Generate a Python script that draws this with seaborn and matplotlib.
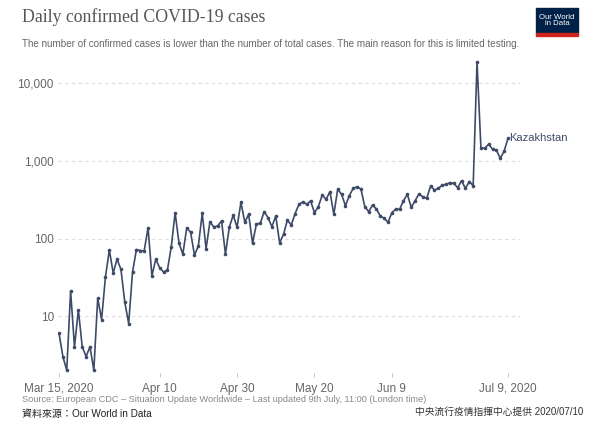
import numpy as np
import pandas as pd
import seaborn as sns
import matplotlib.pyplot as plt
import matplotlib.dates as mdates
from matplotlib.ticker import FixedLocator, NullLocator
from matplotlib.patches import Rectangle

# Data: daily confirmed cases, Kazakhstan, Mar 15 - Jul 9 2020
start_date = "2020-03-15"
daily_cases = [
    6, 3, 2, 21, 4, 12, 4, 3, 4, 2,
    17, 9, 32, 71, 36, 54, 40, 15, 8, 37,
    72, 70, 69, 138, 33, 54, 42, 37, 39, 78,
    215, 87, 63, 138, 120, 61, 80, 211, 74, 165,
    140, 146, 168, 63, 140, 200, 140, 293, 162, 205,
    87, 154, 157, 222, 186, 142, 195, 88, 113, 173,
    149, 210, 276, 297, 276, 305, 215, 258, 363, 321,
    402, 205, 431, 372, 265, 357, 443, 465, 436, 258,
    222, 270, 240, 196, 182, 162, 215, 240, 238, 308,
    372, 252, 308, 375, 345, 330, 475, 423, 443, 489,
    500, 523, 515, 452, 557, 443, 543, 480, 19000, 1486,
    1452, 1650, 1418, 1390, 1080, 1340, 1963,
]
country = "Kazakhstan"
y_ticks = [10, 100, 1000, 10000]
y_tick_labels = ["10", "100", "1,000", "10,000"]
x_tick_dates = ["2020-03-15", "2020-04-10", "2020-04-30", "2020-05-20", "2020-06-09", "2020-07-09"]
x_tick_labels = ["Mar 15, 2020", "Apr 10", "Apr 30", "May 20", "Jun 9", "Jul 9, 2020"]

df = pd.DataFrame({
    "date": pd.date_range(start_date, periods=len(daily_cases), freq="D"),
    "cases": daily_cases,
})

sns.set_style("white")
plt.rcParams["font.family"] = ["Liberation Sans", "Noto Sans CJK TC", "DejaVu Sans"]

line_color = "#3d4b68"
grey = "#666666"

fig = plt.figure(figsize=(6, 4.24), dpi=100)
W, H = 600, 424
ax = fig.add_axes([58 / W, 1 - 373 / H, (520 - 58) / W, (373 - 58) / H])

sns.lineplot(data=df, x="date", y="cases", ax=ax, color=line_color, lw=1.2,
             marker="o", markersize=2.6, markeredgewidth=0, markerfacecolor=line_color)

ax.set_yscale("log")
ax.set_ylim(1.84, 21330)
d0 = df["date"].iloc[0]
ax.set_xlim(d0 - pd.Timedelta(days=0.26), d0 + pd.Timedelta(days=119.1))

ax.yaxis.set_major_locator(FixedLocator(y_ticks))
ax.yaxis.set_minor_locator(NullLocator())
ax.set_yticklabels(y_tick_labels)
ax.set_xticks(pd.to_datetime(x_tick_dates))
ax.set_xticklabels(x_tick_labels)

ax.grid(axis="y", color="#dddddd", ls=(0, (3, 3)), lw=0.8)
ax.grid(axis="x", visible=False)
for s in ax.spines.values():
    s.set_visible(False)
ax.tick_params(axis="y", length=0, pad=3, labelsize=8.5, labelcolor=grey)
ax.tick_params(axis="x", length=3, width=0.6, color="#bbbbbb", pad=4,
               labelsize=8.5, labelcolor=grey, bottom=True)
ax.set_xlabel("")
ax.set_ylabel("")

# series label
ax.text(df["date"].iloc[-1] + pd.Timedelta(days=0.4), daily_cases[-1], country,
        color=line_color, fontsize=8, va="center", ha="left")

# header
fig.text(22 / W, 1 - 8 / H, "Daily confirmed COVID-19 cases", family="Liberation Serif",
         fontsize=12.8, color="#555555", va="top", ha="left")
fig.text(22 / W, 1 - 44 / H,
         "The number of confirmed cases is lower than the number of total cases. "
         "The main reason for this is limited testing.",
         fontsize=7.1, color=grey, va="center", ha="left")

# logo
fig.patches.append(Rectangle((536 / W, 1 - 33 / H), 42 / W, 25 / H,
                             transform=fig.transFigure, color="#002147"))
fig.patches.append(Rectangle((536 / W, 1 - 36 / H), 42 / W, 3 / H,
                             transform=fig.transFigure, color="#ce261e"))
fig.text(557 / W, 1 - 20.5 / H, "Our World\nin Data", color="white", fontsize=5.6,
         ha="center", va="center", linespacing=0.95)

# footer
fig.text(22 / W, 1 - 399 / H,
         "Source: European CDC – Situation Update Worldwide – Last updated 9th July, 11:00 (London time)",
         fontsize=6.6, color="#888888", va="center", ha="left")
fig.text(22 / W, 1 - 414 / H, "資料來源：Our World in Data", fontsize=7.2,
         color="#222222", va="center", ha="left")
fig.text(583 / W, 1 - 412 / H, "中央流行疫情指揮中心提供 2020/07/10", fontsize=7,
         color="#333333", va="center", ha="right")

fig.savefig("out.png", dpi=100)
